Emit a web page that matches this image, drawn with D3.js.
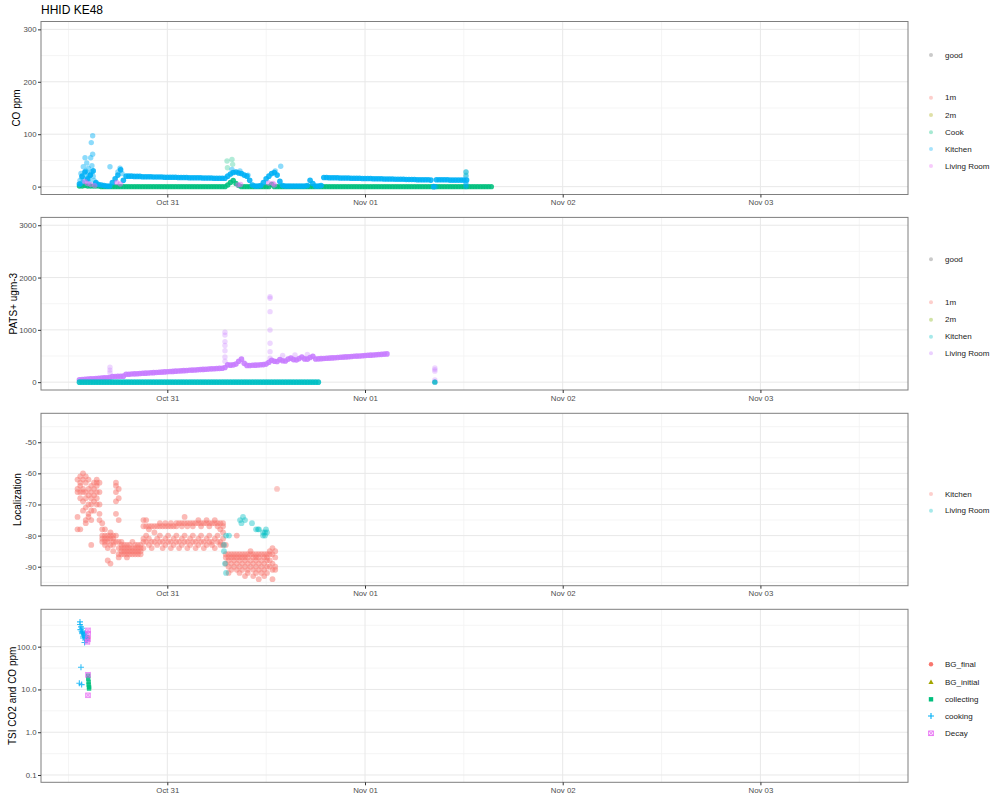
<!DOCTYPE html>
<html><head><meta charset="utf-8">
<script src="https://cdn.jsdelivr.net/npm/d3@7/dist/d3.min.js"></script>
<style>
html,body{margin:0;padding:0;background:#fff;}
svg text{font-family:"Liberation Sans",Arial,Helvetica,sans-serif;}
</style></head><body>
<svg id="chart" width="1000" height="800"></svg>
<script>
// ================= DATA =================
const chartTitle = "HHID KE48";
const xDomainStart = "2019-10-30T08:40";
const xDomainEnd = "2019-11-03T17:55";
const xTicks = ["2019-10-31T00:00","2019-11-01T00:00","2019-11-02T00:00","2019-11-03T00:00"];
const xTickLabels = ["Oct 31","Nov 01","Nov 02","Nov 03"];
const xMinorTicks = ["2019-10-30T12:00","2019-10-31T12:00","2019-11-01T12:00","2019-11-02T12:00","2019-11-03T12:00"];
const sampleStepMin = 20;           // sensor series sampled every 20 minutes
// extra points are [hours since 2019-10-30 00:00, value]

// ---- Panel 1 : CO ppm ----
const coTitle = "CO ppm";
const coTicks = [0,100,200,300];
const coMinor = [50,150,250];
const coGoodLabel = "good";
const coCategories = ["1m","2m","Cook","Kitchen","Living Room"];
const coStart = "2019-10-30T13:20";
const coKitchen = [5,20,28,15,22,30,8,4,3,
  2,1,1,
  8,15,22,32,12,
  20,20,20,19.5,19.5,19.5,19,19,19,19,18.5,18.5,18.5,18.5,18,18,18,18,18,17.5,17.5,17.5,17.5,17,17,17,17,17,16.5,16.5,16.5,16.5,16,16,16,16,16,
  20,24,27,28,26,25,22,20,12,
  3,1,1,2,
  8,15,20,25,27,22,10,
  2,1,1,1,1,1,1,1,1,2,
  12,6,
  1,1,2,
  17.5,17.5,17,17,17,17,16.5,16.5,16.5,16.5,16,16,16,16,15.5,15.5,15.5,15.5,15,15,15,15,14.5,14.5,14.5,14.5,14,14,14,14,13.5,13.5,13.5,13.5,13,13,13,13,13,12.5,
  0,
  13,13,13,13,13,12.5,12.5,12.5,12.5,12.5,12.5,12.5];
const coKitchenExtra = [[14.94,97],[14.77,84],[14.94,62],[14.70,55],[14.01,55],[14.22,45],[14.41,35],[13.80,38],[14.62,22],
  [13.52,25],[13.89,12],[14.25,18],[14.5,8],[13.4,12],[13.6,18],[13.7,8],[14.1,30],[14.3,26],[14.5,15],[14.8,28],
  [15.1,12],[15.3,6],[13.45,5],[14.85,40],[15.0,20],
  [17.04,38],[18.26,35],[18.0,28],[18.5,25],[31.85,33],[32.82,30],[33.8,22],
  [37.77,39],[37.1,30],[56.6,0],[60.26,28],[60.26,20],[60.26,8],[60.26,3],[60.26,0]];
const coCook = [1,1,2,1,1,1,1,1,0,0,
  0,0,0,0,0,0,0,0,0,0,
  0,0,0,0,0,0,0,0,0,0,
  0,0,0,0,0,0,0,0,0,0,
  0,0,0,0,0,0,0,0,0,0,
  0,0,0,0,3,8,12,6,2,0,
  0,0,0,0,0,0,0,0,0,0,
  4,0,0,0,0,0,0,0,0,0,
  0,0,0,0,0,0,0,0,0,0,
  0,0,0,0,0,0,0,0,0,0,
  0,0,0,0,0,0,0,0,0,0,
  0,0,0,0,0,0,0,0,0,0,
  0,0,0,0,0,0,0,0,0,0,
  0,0,0,0,0,0,0,0,0,0,
  0,0,0,0,0,0,0,0,0,0,
  0];
const coCookExtra = [[31.25,49],[31.85,52],[31.93,42.5],[31.3,36],[60.26,28],[60.26,22]];
const coLivingRoom = [[14.0,10],[14.3,6],[14.7,4],[15.2,2],[17.86,8],[18.3,5],[32.58,3],[32.9,4],[36.3,7],[36.83,6],[37.0,3]];

// ---- Panel 2 : PATS+ ugm-3 ----
const patsTitle = "PATS+ ugm-3";
const patsTicks = [0,1000,2000,3000];
const patsMinor = [500,1500,2500];
const patsCategories = ["1m","2m","Kitchen","Living Room"];
const patsStart = "2019-10-30T13:20";
const patsLivingRoom = [45,50,55,60,62,66,70,74,78,82,85,88,
  105,108,110,112,115,150,
  152,155,158,162,165,169,172,175,179,182,186,189,192,196,199,203,206,210,213,216,220,223,227,230,233,237,240,244,247,250,254,257,260,263,266,
  280,330,325,330,345,400,440,360,320,318,322,325,328,332,336,345,
  380,420,400,395,430,410,405,440,460,430,425,450,480,445,440,470,495,
  442,446,449,453,457,460,464,468,472,475,479,483,486,490,494,498,501,505,509,513,516,520,524,528,532,536,540];
const patsLivingRoomExtra = [[17.04,180],[17.04,230],[17.04,285],
  [31.0,953],[31.0,900],[31.0,775],[31.0,700],[31.0,600],[31.0,480],[31.0,400],
  [36.47,1635],[36.47,1604],[36.47,1348],[36.47,998],[36.47,744],[36.47,583],[36.47,457],
  [38.0,510],[39.5,520],[41.0,530],
  [56.48,270],[56.48,240],[56.48,210],[56.48,40],[56.48,10],[56.48,0]];
const patsKitchen = [0,0,0,0,0,0,0,0,0,0, 0,0,0,0,0,0,0,0,0,0, 0,0,0,0,0,0,0,0,0,0,
  0,0,0,0,0,0,0,0,0,0, 0,0,0,0,0,0,0,0,0,0, 0,0,0,0,0,0,0,0,0,0,
  0,0,0,0,0,0,0,0,0,0, 0,0,0,0,0,0,0,0,0,0, 0,0,0,0,0,0,0,0];
const patsKitchenExtra = [[56.48,0]];

// ---- Panel 3 : Localization ----
const locTitle = "Localization";
const locTicks = [-90,-80,-70,-60,-50];
const locMinor = [-95,-85,-75,-65,-55,-45];
const locCategories = ["Kitchen","Living Room"];
const locStart = "2019-10-30T13:06";
const locKitchenBins = [
  [-62,-65,-66,-74,-78],[-61,-63,-64,-66,-68,-78],[-60,-62,-65,-66,-69,-72],[-61,-63,-66,-68,-71,-75,-76],
  [-62,-65,-67,-70,-73,-74],[-64,-66,-68,-70,-72,-75,-83],[-63,-65,-67,-69,-72],[-62,-63,-64,-66,-68,-70],
  [-63,-66,-70,-73,-75],[-76,-78,-80,-81,-82],[-78,-80,-81,-82,-83],[-80,-81,-82,-84,-88],
  [-79,-80,-81,-83,-89],[-80,-81,-82,-83,-85],[-63,-64,-66,-69,-73,-80,-82],[-65,-68,-75,-82,-84,-86,-87],
  [-82,-83,-84,-85,-86],[-83,-84,-85,-86],[-83,-84,-85,-86,-87],[-83,-84,-85,-86],
  [-82,-84,-85,-86],[-83,-84,-85,-86],[-83,-84,-85,-86],[-83,-84,-85,-86],
  [-75,-77,-81,-82,-84],[-75,-77,-80,-82],[-77,-78,-81,-83],[-77,-82,-84],
  [-77,-79,-82],[-77,-81,-83],[-76,-77,-80,-82],[-77,-82,-84],
  [-76,-77,-81,-83],[-77,-80,-82],[-76,-77,-82,-84],[-77,-81,-83],
  [-76,-77,-80,-82],[-76,-82,-84],[-76,-77,-81,-83],[-74,-76,-80,-82],
  [-76,-77,-82,-84],[-76,-81,-83],[-76,-77,-80,-82],[-76,-82,-84],
  [-75,-76,-81,-83],[-76,-77,-80,-82],[-76,-82,-84],[-75,-76,-81,-83],
  [-76,-77,-80,-82],[-76,-82,-83],[-75,-76,-81,-84],[-76,-77,-80,-82],
  [-76,-78,-82,-83],[-76,-77,-79,-81,-83],[-83,-86,-87,-89],[-86,-87,-88,-90,-92],
  [-86,-87,-89,-91],[-86,-87,-88,-90],[-80,-86,-87,-89,-91],[-86,-87,-88,-90,-92],
  [-86,-87,-89,-91],[-86,-87,-88,-90,-93],[-86,-87,-89,-91,-92],[-85,-86,-88,-90],
  [-86,-87,-89,-91,-93],[-86,-87,-88,-90,-92],[-86,-87,-89,-91,-94],[-86,-88,-90,-92],
  [-86,-87,-89,-91,-93],[-86,-87,-88,-90,-92],[-85,-86,-88,-90],[-84,-86,-89,-91,-94],
  [-85,-87,-90,-91]];
const locKitchenExtra = [[37.32,-65]];
const locLivingRoom = [[30.88,-85],[30.88,-83],[31.0,-89],[31.13,-92],[31.13,-80],[31.49,-80],[32.83,-75],[33.0,-76],
  [33.19,-74],[33.43,-75],[34.28,-76],[34.77,-78],[35.0,-78],[35.13,-78],[35.62,-80],[35.62,-79],
  [35.86,-79],[35.86,-80],[35.98,-78],[36.1,-79]];

// ---- Panel 4 : TSI CO2 and CO ppm ----
const tsiTitle = "TSI CO2 and CO ppm";
const tsiTicks = [0.1,1,10,100];
const tsiTickLabels = ["0.1","1.0","10.0","100.0"];
const tsiMinor = [0.316,3.16,31.6,316];
const tsiCategories = ["BG_final","BG_initial","collecting","cooking","Decay"];
const tsiCooking = [[13.4,380],[13.4,330],[13.52,290],[13.45,250],[13.64,270],[13.6,230],[13.77,220],[13.7,200],
  [13.89,190],[13.8,175],[14.01,210],[14.01,165],[14.13,180],[14.13,150],[14.25,160],[14.25,140],[13.77,160],
  [13.64,210],[13.95,125],[13.52,33],[13.32,14],[13.6,13]];
const tsiCollecting = [[14.4,21],[14.4,18],[14.45,15],[14.45,13],[14.5,11.5],[14.5,10.5]];
const tsiDecay = [[14.37,240],[14.4,200],[14.37,150],[14.3,130],[14.37,22],[14.37,7.3]];
const tsiBGfinal = [[14.37,155],[14.4,165]];
const tsiBGinitial = [];

// ================= DRAWING =================
const svg = d3.select("#chart");
const parse = d3.utcParse("%Y-%m-%dT%H:%M");
const T0 = Date.UTC(2019,9,30);
const fromHours = h => new Date(T0 + h*3600000);
const seq = (start, vals) => { const s = parse(start).getTime(); return vals.map((v,i)=>({t:new Date(s+i*sampleStepMin*60000), v})); };
const pts = arr => arr.map(([h,v])=>({t:fromHours(h), v}));

const FONT = '"Liberation Sans",Arial,Helvetica,sans-serif';
const X0 = 41, X1 = 908;
const x = d3.scaleUtc().domain([parse(xDomainStart), parse(xDomainEnd)]).range([X0, X1]);
const xMajor = xTicks.map(parse), xMinor = xMinorTicks.map(parse);

const hue5 = ["#F8766D","#A3A500","#00BF7D","#00B0F6","#E76BF3"];
const hue4 = ["#F8766D","#7CAE00","#00BFC4","#C77CFF"];
const hue2 = ["#F8766D","#00BFC4"];
const BAND_OP = 0.88, PT_OP = 0.4;

svg.append("text").attr("x",41).attr("y",14).attr("font-size",12).attr("fill","#000").text(chartTitle);

function circles(g, data, y, color, r=2.7, op=PT_OP){
  g.append("g").selectAll("circle").data(data).join("circle")
    .attr("cx",d=>x(d.t)).attr("cy",d=>y(d.v)).attr("r",r)
    .attr("fill",color).attr("fill-opacity",op);
}

function panel(cfg, idx){
  const {top,bottom,y} = cfg;
  const g = svg.append("g");
  g.append("rect").attr("x",X0).attr("y",top).attr("width",X1-X0).attr("height",bottom-top).attr("fill","#fff");
  g.append("g").selectAll("line").data(xMinor).join("line")
    .attr("x1",d=>x(d)).attr("x2",d=>x(d)).attr("y1",top).attr("y2",bottom).attr("stroke","#F3F3F3").attr("stroke-width",0.8);
  g.append("g").selectAll("line").data(cfg.minor).join("line")
    .attr("x1",X0).attr("x2",X1).attr("y1",d=>y(d)).attr("y2",d=>y(d)).attr("stroke","#F3F3F3").attr("stroke-width",0.8);
  g.append("g").selectAll("line").data(xMajor).join("line")
    .attr("x1",d=>x(d)).attr("x2",d=>x(d)).attr("y1",top).attr("y2",bottom).attr("stroke","#E8E8E8").attr("stroke-width",1);
  g.append("g").selectAll("line").data(cfg.ticks).join("line")
    .attr("x1",X0).attr("x2",X1).attr("y1",d=>y(d)).attr("y2",d=>y(d)).attr("stroke","#E8E8E8").attr("stroke-width",1);
  const cid = "clip"+idx;
  svg.append("clipPath").attr("id",cid).append("rect").attr("x",X0).attr("y",top).attr("width",X1-X0).attr("height",bottom-top);
  const pg = g.append("g").attr("clip-path",`url(#${cid})`);
  cfg.draw(pg, y);
  g.append("rect").attr("x",X0).attr("y",top).attr("width",X1-X0).attr("height",bottom-top)
    .attr("fill","none").attr("stroke","#7F7F7F").attr("stroke-width",1);
  const ax = g.append("g").attr("transform",`translate(0,${bottom})`)
    .call(d3.axisBottom(x).tickValues(xMajor).tickFormat((d,i)=>xTickLabels[i]).tickSize(3).tickPadding(2));
  const ay = g.append("g").attr("transform",`translate(${X0},0)`)
    .call(d3.axisLeft(y).tickValues(cfg.ticks).tickFormat((d,i)=>cfg.tickLabels ? cfg.tickLabels[i] : String(d)).tickSize(3).tickPadding(1.5));
  [ax,ay].forEach(a=>{
    a.select(".domain").remove();
    a.attr("font-family",FONT).attr("font-size",7.8);
    a.selectAll(".tick line").attr("stroke","#333");
    a.selectAll(".tick text").attr("fill","#4D4D4D");
  });
  const cy = (top+bottom)/2;
  g.append("text").attr("transform",`translate(${cfg.titleX},${cy}) rotate(-90)`)
    .attr("text-anchor","middle").attr("dominant-baseline","central")
    .attr("font-size",10).attr("fill","#000").text(cfg.title);
  cfg.legend.forEach(it=>{
    const lg = g.append("g").attr("transform",`translate(931,${it.y})`);
    drawKey(lg, it);
    g.append("text").attr("x",945).attr("y",it.y).attr("dominant-baseline","central")
      .attr("font-size",8).attr("fill","#1A1A1A").text(it.label);
  });
}

function drawKey(g, it){
  const c = it.color, s = it.shape || "dot";
  if (s==="dot") g.append("circle").attr("r",2).attr("fill",c).attr("fill-opacity",it.op ?? 0.35);
  else if (s==="circle") g.append("circle").attr("r",2.2).attr("fill",c);
  else if (s==="triangle") g.append("path").attr("d","M0,-2.6L2.6,2L-2.6,2Z").attr("fill",c);
  else if (s==="square") g.append("rect").attr("x",-2.2).attr("y",-2.2).attr("width",4.4).attr("height",4.4).attr("fill",c);
  else if (s==="plus") g.append("path").attr("d","M-3,0H3M0,-3V3").attr("stroke",c).attr("stroke-width",1.1).attr("fill","none");
  else if (s==="sqx") {
    g.append("rect").attr("x",-2.3).attr("y",-2.3).attr("width",4.6).attr("height",4.6).attr("fill","none").attr("stroke",c).attr("stroke-width",0.9);
    g.append("path").attr("d","M-2.3,-2.3L2.3,2.3M-2.3,2.3L2.3,-2.3").attr("stroke",c).attr("stroke-width",0.9);
  }
}

const panels = [
  { top:21.5, bottom:194.5, title:coTitle, titleX:16, ticks:coTicks, minor:coMinor,
    y:d3.scaleLinear().domain([-15,315]).range([194.5,21.5]),
    draw:(g,y)=>{
      circles(g, seq(coStart, coCook), y, hue5[2], 2.7, BAND_OP);
      circles(g, pts(coCookExtra), y, hue5[2], 2.7, 0.3);
      circles(g, seq(coStart, coKitchen), y, hue5[3], 2.8, BAND_OP);
      circles(g, pts(coKitchenExtra), y, hue5[3], 2.7, 0.45);
      circles(g, pts(coLivingRoom), y, hue5[4], 2.7, 0.5);
    },
    legend:[{label:coGoodLabel,y:55,color:"#666"}].concat(coCategories.map((c,i)=>({label:c,y:[97.7,115,132.3,149,166][i],color:hue5[i]})))
  },
  { top:217.4, bottom:390, title:patsTitle, titleX:13, ticks:patsTicks, minor:patsMinor,
    y:d3.scaleLinear().domain([-150,3150]).range([390,217.4]),
    draw:(g,y)=>{
      circles(g, seq(patsStart, patsLivingRoom), y, hue4[3], 2.8, BAND_OP);
      circles(g, pts(patsLivingRoomExtra), y, hue4[3], 2.7, 0.3);
      circles(g, seq(patsStart, patsKitchen), y, hue4[2], 2.8, BAND_OP);
      circles(g, pts(patsKitchenExtra), y, hue4[2], 2.7, 0.8);
    },
    legend:[{label:coGoodLabel,y:259.3,color:"#666"}].concat(patsCategories.map((c,i)=>({label:c,y:[302.3,319.7,336.7,353.3][i],color:hue4[i]})))
  },
  { top:413.3, bottom:585.7, title:locTitle, titleX:17, ticks:locTicks, minor:locMinor,
    y:d3.scaleLinear().domain([-96.1,-40.7]).range([585.7,413.3]),
    draw:(g,y)=>{
      const s = parse(locStart).getTime();
      const kit = [];
      locKitchenBins.forEach((vals,i)=>vals.forEach(v=>kit.push({t:new Date(s+i*sampleStepMin*60000), v})));
      circles(g, kit, y, hue2[0], 2.9, 0.5);
      circles(g, pts(locKitchenExtra), y, hue2[0], 2.9, 0.4);
      circles(g, pts(locLivingRoom), y, hue2[1], 2.9, 0.42);
    },
    legend:locCategories.map((c,i)=>({label:c,y:[494,510.7][i],color:hue2[i]}))
  },
  { top:609.3, bottom:782.3, title:tsiTitle, titleX:12, ticks:tsiTicks, tickLabels:tsiTickLabels, minor:tsiMinor,
    y:d3.scaleLog().domain([0.0675,748]).range([782.3,609.3]),
    draw:(g,y)=>{
      g.append("g").selectAll("circle").data(pts(tsiBGfinal)).join("circle")
        .attr("cx",d=>x(d.t)).attr("cy",d=>y(d.v)).attr("r",2.3).attr("fill",hue5[0]).attr("fill-opacity",0.8);
      g.append("g").selectAll("path").data(pts(tsiBGinitial)).join("path")
        .attr("transform",d=>`translate(${x(d.t)},${y(d.v)})`).attr("d","M0,-2.6L2.6,2L-2.6,2Z").attr("fill",hue5[1]);
      g.append("g").selectAll("rect").data(pts(tsiCollecting)).join("rect")
        .attr("x",d=>x(d.t)-2.2).attr("y",d=>y(d.v)-2.2).attr("width",4.4).attr("height",4.4).attr("fill",hue5[2]).attr("fill-opacity",0.85);
      g.append("g").selectAll("path").data(pts(tsiCooking)).join("path")
        .attr("transform",d=>`translate(${x(d.t)},${y(d.v)})`).attr("d","M-3,0H3M0,-3V3")
        .attr("stroke",hue5[3]).attr("stroke-width",1.1).attr("stroke-opacity",0.8).attr("fill","none");
      const dg = g.append("g").selectAll("g").data(pts(tsiDecay)).join("g")
        .attr("transform",d=>`translate(${x(d.t)},${y(d.v)})`).attr("opacity",0.8);
      dg.append("rect").attr("x",-2.3).attr("y",-2.3).attr("width",4.6).attr("height",4.6)
        .attr("fill",hue5[4]).attr("fill-opacity",0.4).attr("stroke",hue5[4]).attr("stroke-width",0.9);
      dg.append("path").attr("d","M-2.3,-2.3L2.3,2.3M-2.3,2.3L2.3,-2.3").attr("stroke",hue5[4]).attr("stroke-width",0.9);
    },
    legend:tsiCategories.map((c,i)=>({label:c,y:[664.3,682,699.3,716,733.3][i],color:hue5[i],shape:["circle","triangle","square","plus","sqx"][i]}))
  }
];
panels.forEach((p,i)=>panel(p,i));
</script>
</body></html>
